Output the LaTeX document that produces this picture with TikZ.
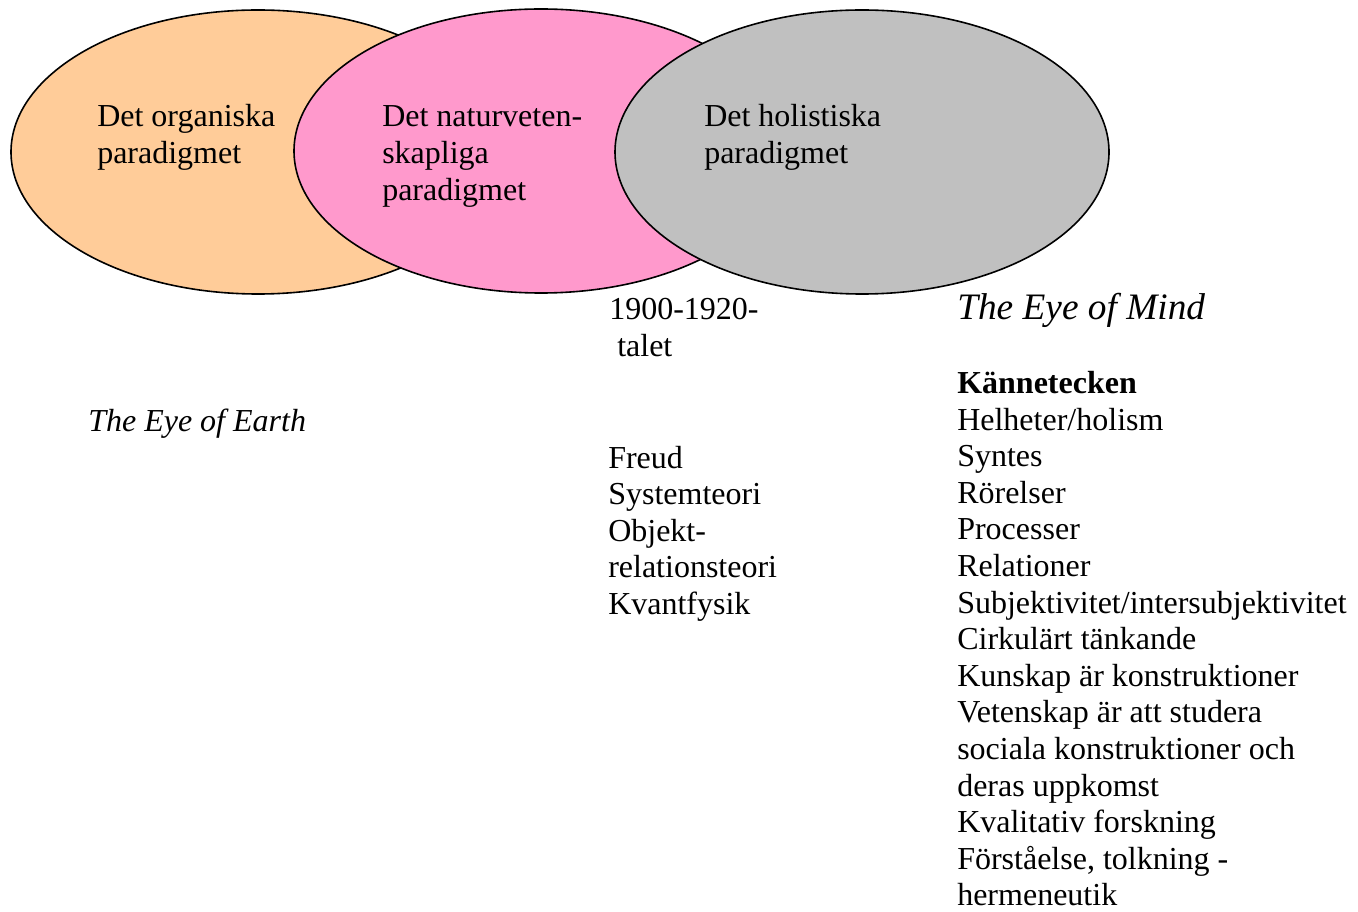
\documentclass[tikz,border=0pt]{standalone}
\usepackage{fontspec}
\setmainfont{Liberation Serif}
\usetikzlibrary{shapes.geometric}
\definecolor{orangefill}{HTML}{FFCC99}
\definecolor{pinkfill}{HTML}{FF99CC}
\definecolor{grayfill}{HTML}{C0C0C0}
\tikzset{
  venn/.style={ellipse, draw=black, line width=1.2pt, inner sep=0pt,
    minimum width=370.5pt, minimum height=213pt},
  txt/.style={anchor=base west, inner sep=0pt, font=\fontsize{24}{27.5}\selectfont},
  itxt/.style={txt, font=\fontsize{24}{27.5}\selectfont\itshape},
  bigitxt/.style={txt, font=\fontsize{28}{33}\selectfont\itshape},
  btxt/.style={txt, font=\fontsize{24}{27.5}\selectfont\bfseries}
}
\begin{document}
\begin{tikzpicture}[x=0.75pt, y=-0.75pt]
\useasboundingbox (0,0) rectangle (1358,912);
% ellipses
\node[venn, fill=orangefill] (org) at (258,152) {};
\node[venn, fill=pinkfill] (nat) at (541,151) {};
\node[venn, fill=grayfill] (hol) at (862,152) {};
% ellipse labels
\node[txt] (org1) at (97,127) {Det organiska};
\node[txt] (org2) at (97,163.6) {paradigmet};
\node[txt] (nat1) at (382,127) {Det naturveten-};
\node[txt] (nat2) at (382,163.6) {skapliga};
\node[txt] (nat3) at (382,200.3) {paradigmet};
\node[txt] (hol1) at (704,127) {Det holistiska};
\node[txt] (hol2) at (704,163.6) {paradigmet};
% middle column
\node[txt] (yr1) at (609,320) {1900-1920-};
\node[txt] (yr2) at (617,357) {talet};
\foreach \t [count=\i from 0] in {Freud, Systemteori, Objekt-, relationsteori, Kvantfysik}
  \node[txt] (mid\i) at (608,468+\i*36.64) {\t};
% left
\node[itxt] (earth) at (88,431) {The Eye of Earth};
% right column
\node[bigitxt] (mind) at (957,320) {The Eye of Mind};
\node[btxt] (kann) at (957,393.5) {Kännetecken};
\foreach \t [count=\i from 1] in {Helheter/holism, Syntes, Rörelser, Processer, Relationer,
   Subjektivitet/intersubjektivitet, Cirkulärt tänkande, Kunskap är konstruktioner,
   Vetenskap är att studera, sociala konstruktioner och, deras uppkomst,
   Kvalitativ forskning, {Förståelse, tolkning -}, hermeneutik}
  \node[txt] (r\i) at (957,393.5+\i*36.6) {\t};
\end{tikzpicture}
\end{document}
